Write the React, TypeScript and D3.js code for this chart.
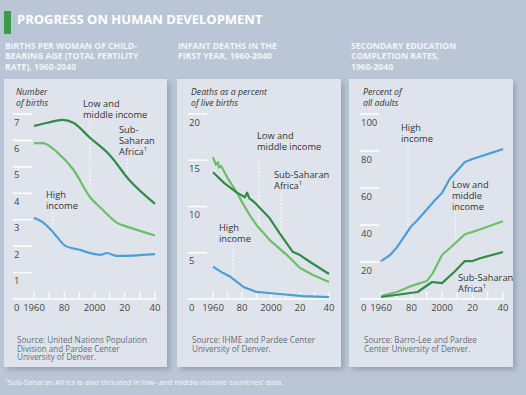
import * as d3 from 'd3';

// Births per woman (total fertility rate)
const fertSsaYears = [1960, 1969, 1979, 1986, 1997, 2010, 2023, 2040];
const fertSsa = [6.55, 6.67, 6.78, 6.67, 6.1, 5.45, 4.5, 3.6];
const fertLmicYears = [1960, 1966, 1975, 1986, 1997, 2004, 2015, 2024, 2040];
const fertLmic = [5.9, 5.9, 5.57, 4.9, 3.86, 3.45, 2.88, 2.69, 2.4];
const fertHighYears = [1960, 1966, 1973, 1981, 1991, 1997, 2004, 2008, 2015, 2040];
const fertHigh = [3.07, 2.9, 2.5, 2.0, 1.85, 1.74, 1.67, 1.74, 1.63, 1.7];

// Infant deaths, % of live births
const infSsaYears = [1960, 1968, 1976.5, 1982, 1983.5, 1985, 1989, 1992.5, 1999, 2006, 2015, 2020, 2027, 2040];
const infSsa = [13.7, 12.5, 11.5, 11.0, 11.5, 10.9, 10.4, 9.8, 8.75, 7.1, 5.1, 4.75, 4.0, 2.7];
const infLmicYears = [1960, 1962, 1963.5, 1964, 1965.5, 1970, 1976.5, 1981, 1986, 1991, 1999, 2011, 2020, 2029, 2040];
const infLmic = [15.35, 14.5, 14.8, 14.2, 14.4, 13.1, 11.5, 10.2, 8.9, 7.8, 6.4, 4.75, 3.35, 2.6, 1.85];
const infHighYears = [1960, 1967, 1972, 1981, 1990, 2006, 2022, 2040];
const infHigh = [3.5, 2.8, 2.4, 1.3, 0.76, 0.54, 0.32, 0.2];

// Secondary education completion, % of adults
const eduHighYears = [1960, 1966, 1970.5, 1980, 1984, 1995.5, 2000, 2005, 2015, 2020, 2040];
const eduHigh = [20.5, 23.8, 28, 39.5, 42.7, 53.5, 57.3, 64.9, 74, 75.7, 81];
const eduLmicYears = [1960, 1970.5, 1979, 1990, 1994, 2000, 2008.5, 2015, 2020, 2040];
const eduLmic = [1.6, 3.8, 6.8, 9.7, 14, 23.8, 30, 35, 36.2, 42];
const eduSsaYears = [1960, 1984, 1993.5, 2000, 2008, 2015, 2020, 2025, 2040];
const eduSsa = [1.1, 3.8, 9.2, 8.6, 14.6, 20.5, 20.5, 22, 25.4];

const xTickYears = [1960, 1970, 1980, 1990, 2000, 2010, 2020, 2030, 2040];
const xLabelYears = [1960, 1980, 2000, 2020, 2040];
const xLabels = ['1960', '80', '2000', '20', '40'];

const DARK = '#2f8b45';
const LIGHT = '#6cbf67';
const BLUE = '#4c9fd6';
const FONT = '"Open Sans", "Noto Sans", sans-serif';

type Series = { years: number[]; values: number[]; color: string };
type Note = { lines: string[]; x: number; y: number; leader?: [number, number, number] };

interface PanelProps {
  left: number;
  width: number;
  axisLeft: number;
  xStart: number;
  xEnd: number;
  yTicks: number[];
  yMax: number;
  subtitle: string[];
  subX: number;
  unit: string[];
  series: Series[];
  notes: Note[];
  source: string[];
  curve: d3.CurveFactory;
}

const TOP = 114;
const BASE = 299;

// one <text> per block, lines as tspans
const Lines = ({ lines, x, y, step, ...rest }: any) => (
  <text x={x} y={y} fontFamily={FONT} {...rest}>
    {lines.map((t: string, j: number) => (
      t.endsWith('¹')
        ? <tspan key={j} x={x} dy={j ? step : 0}>{t.slice(0, -1)}<tspan fontSize={6} dy={-3.5}>1</tspan><tspan dy={3.5}>{''}</tspan></tspan>
        : <tspan key={j} x={x} dy={j ? step : 0}>{t}</tspan>
    ))}
  </text>
);

const Panel = (p: PanelProps) => {
  const x = d3.scaleLinear().domain([1960, 2040]).range([p.xStart, p.xEnd]);
  const y = d3.scaleLinear().domain([0, p.yMax]).range([BASE, TOP]);
  const line = d3.line<number>().curve(p.curve);
  return (
    <g>
      <Lines lines={p.subtitle} x={p.subX} y={48.5} step={10.5} fontSize={8.6} fontWeight={700} fill="#f1f4f8" />
      <rect x={p.left} y={79} width={p.width} height={288} fill="#dfe4ec" filter="url(#shadow)" />
      <Lines lines={p.unit} x={p.axisLeft + 3} y={95} step={10.5} fontSize={8.7} fontStyle="italic" fill="#333" />
      {p.yTicks.filter(v => v > 0).map(v => (
        <g key={v}>
          <line x1={p.axisLeft} x2={p.axisLeft + 19} y1={y(v)} y2={y(v)} stroke="#fff" strokeWidth={1.5} />
          <text x={p.axisLeft + 1} y={y(v) + 11.5} fontSize={9.5} fill="#444" fontFamily={FONT}>{v}</text>
        </g>
      ))}
      <line x1={p.axisLeft} x2={p.xEnd + 1} y1={BASE} y2={BASE} stroke="#fff" strokeWidth={1.5} />
      <text x={p.axisLeft + 1} y={BASE + 11.5} fontSize={9.5} fill="#444" fontFamily={FONT}>0</text>
      {xTickYears.map(yr => (
        <line key={yr} x1={x(yr)} x2={x(yr)} y1={BASE} y2={BASE - 7} stroke="#fff" strokeWidth={1.2} />
      ))}
      {xLabelYears.map((yr, i) => (
        <text key={yr} x={x(yr)} y={BASE + 12} fontSize={9.5} fill="#444" textAnchor="middle" fontFamily={FONT}>{xLabels[i]}</text>
      ))}
      {p.notes.map((n, i) => n.leader && (
        <line key={'l' + i} x1={x(n.leader[0])} x2={x(n.leader[0])} y1={n.leader[1]} y2={y(n.leader[2])}
          stroke="#fff" strokeWidth={1.1} strokeDasharray="1.5 2" />
      ))}
      {p.series.map((s, i) => (
        <path key={i} d={line.x((_, j) => x(s.years[j])).y(v => y(v))(s.values) || ''}
          fill="none" stroke={s.color} strokeWidth={2.2} strokeLinejoin="round" />
      ))}
      {p.notes.map((n, i) => (
        <Lines key={i} lines={n.lines} x={n.x} y={n.y} step={11} fontSize={9.3} fill="#333" />
      ))}
      <Lines lines={p.source} x={p.axisLeft + 4} y={343} step={8.7} fontSize={8.1} fill="#666d76" />
    </g>
  );
};

export default function App() {
  return (
    <svg width={526} height={395} style={{ position: 'absolute', left: 0, top: 0 }}>
      <defs>
        <filter id="shadow" x="-10%" y="-10%" width="130%" height="130%">
          <feDropShadow dx="3" dy="3" stdDeviation="2.5" floodColor="#6f7d8f" floodOpacity="0.45" />
        </filter>
      </defs>
      <rect width={526} height={395} fill="#bac6d5" />
      <rect x={4} y={11} width={7} height={23} fill="#3d9b4c" />
      <text x={17} y={23.5} fontSize={13} fontWeight={700} fill="#fff" fontFamily={FONT}>PROGRESS ON HUMAN DEVELOPMENT</text>

      <Panel left={4} width={163} axisLeft={13} xStart={34} xEnd={155} yTicks={[0, 1, 2, 3, 4, 5, 6, 7]} yMax={7}
        subtitle={['BIRTHS PER WOMAN OF CHILD-', 'BEARING AGE (TOTAL FERTILITY', 'RATE), 1960-2040']} subX={5}
        unit={['Number', 'of births']}
        series={[
          { years: fertHighYears, values: fertHigh, color: BLUE },
          { years: fertLmicYears, values: fertLmic, color: LIGHT },
          { years: fertSsaYears, values: fertSsa, color: DARK },
        ]}
        notes={[
          { lines: ['Low and', 'middle income'], x: 83, y: 106.5, leader: [1997, 123, 4.1] },
          { lines: ['Sub-', 'Saharan', 'Africa¹'], x: 119, y: 132.5, leader: [2021.5, 159, 4.7] },
          { lines: ['High', 'income'], x: 46, y: 197.5, leader: [1972.5, 212, 2.75] },
        ]}
        source={['Source: United Nations Population', 'Division and Pardee Center', 'University of Denver.']}
        curve={d3.curveMonotoneX} />

      <Panel left={177} width={164} axisLeft={188} xStart={213} xEnd={329} yTicks={[0, 5, 10, 15, 20]} yMax={20}
        subtitle={['INFANT DEATHS IN THE', 'FIRST YEAR, 1960-2040']} subX={178}
        unit={['Deaths as a percent', 'of live births']}
        series={[
          { years: infHighYears, values: infHigh, color: BLUE },
          { years: infLmicYears, values: infLmic, color: LIGHT },
          { years: infSsaYears, values: infSsa, color: DARK },
        ]}
        notes={[
          { lines: ['Low and', 'middle income'], x: 257, y: 138.5, leader: [1991.7, 157, 7.6] },
          { lines: ['Sub-Saharan', 'Africa¹'], x: 274, y: 177.5, leader: [2007, 193, 7.0] },
          { lines: ['High', 'income'], x: 219, y: 230.5, leader: [1973.8, 245, 2.1] },
        ]}
        source={['Source: IHME and Pardee Center', 'University of Denver.']}
        curve={d3.curveLinear} />

      <Panel left={349} width={164} axisLeft={360} xStart={381} xEnd={503} yTicks={[0, 20, 40, 60, 80, 100]} yMax={100}
        subtitle={['SECONDARY EDUCATION', 'COMPLETION RATES,', '1960-2040']} subX={351}
        unit={['Percent of', 'all adults']}
        series={[
          { years: eduHighYears, values: eduHigh, color: BLUE },
          { years: eduLmicYears, values: eduLmic, color: LIGHT },
          { years: eduSsaYears, values: eduSsa, color: DARK },
        ]}
        notes={[
          { lines: ['High', 'income'], x: 401, y: 130.5, leader: [1977.7, 147, 39] },
          { lines: ['Low and', 'middle', 'income'], x: 452, y: 187.5, leader: [2009, 213, 30.5] },
          { lines: ['Sub-Saharan', 'Africa¹'], x: 458, y: 280.5 },
        ]}
        source={['Source: Barro-Lee and Pardee', 'Center University of Denver.']}
        curve={d3.curveLinear} />

      <text x={5} y={385} fontSize={7.6} fill="#f3f6f9" fontFamily={FONT}>
        <tspan fontSize={5} dy={-3}>1</tspan><tspan dy={3}>Sub-Saharan Africa is also included in low- and middle-income countries’ data.</tspan>
      </text>
    </svg>
  );
}
